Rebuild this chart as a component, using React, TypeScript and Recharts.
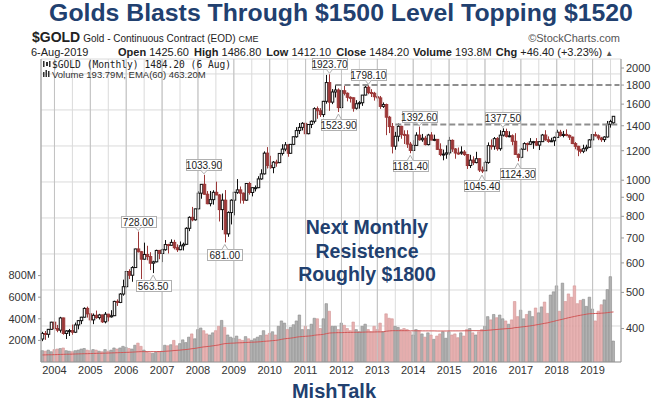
import React from 'react';
import {
  ComposedChart, Bar, Line, XAxis, YAxis, CartesianGrid,
  ReferenceLine, ReferenceDot, ReferenceArea, Cell,
} from 'recharts';

// months Sep 2003 .. Aug 2019, plus two empty months of right padding
const years = [2003, 2004, 2005, 2006, 2007, 2008, 2009, 2010, 2011, 2012, 2013, 2014, 2015, 2016, 2017, 2018, 2019];
const monthNums = ['01', '02', '03', '04', '05', '06', '07', '08', '09', '10', '11', '12'];
const categories = years
  .flatMap((y) => monthNums.map((m) => `${y}-${m}`))
  .filter((k) => k >= '2003-09' && k <= '2019-10');

const opens = [
  375, 388, 386, 398,
  416, 400, 396, 427, 388, 394, 395, 391, 409, 420, 429, 453,
  438, 422, 434, 428, 435, 417, 437, 430, 433, 473, 470, 495,
  518, 569, 556, 583, 654, 643, 614, 632, 624, 599, 604, 648,
  636, 651, 672, 669, 681, 659, 651, 667, 673, 743, 795, 783,
  838, 923, 975, 917, 865, 887, 928, 913, 834, 884, 718, 819,
  884, 928, 942, 923, 884, 980, 927, 955, 955, 1008, 1040, 1182,
  1096, 1081, 1118, 1115, 1180, 1212, 1244, 1181, 1248, 1308, 1359, 1386,
  1421, 1333, 1411, 1439, 1556, 1536, 1500, 1628, 1828, 1620, 1725, 1746,
  1566, 1738, 1711, 1669, 1664, 1560, 1604, 1614, 1692, 1776, 1719, 1711,
  1675, 1663, 1578, 1596, 1476, 1393, 1234, 1312, 1395, 1327, 1323, 1250,
  1202, 1240, 1321, 1284, 1296, 1246, 1322, 1282, 1287, 1210, 1172, 1175,
  1184, 1279, 1213, 1183, 1182, 1190, 1172, 1095, 1132, 1115, 1142, 1065,
  1060, 1116, 1238, 1234, 1293, 1215, 1321, 1351, 1311, 1316, 1272, 1173,
  1152, 1211, 1254, 1249, 1268, 1269, 1242, 1269, 1322, 1284, 1271, 1276,
  1303, 1345, 1318, 1327, 1319, 1305, 1254, 1233, 1206, 1196, 1215, 1226,
  1283, 1325, 1316, 1298, 1285, 1306, 1413, 1425.6,
];
const highs = [
  392, 394, 399, 417,
  427, 409, 430, 428, 396, 399, 410, 415, 421, 430, 456, 458,
  440, 439, 447, 438, 436, 443, 438, 448, 475, 479, 498, 541,
  571, 577, 588, 655, 728, 646, 680, 667, 641, 608, 651, 650,
  655, 691, 675, 694, 692, 673, 685, 680, 748, 800, 848, 838,
  934, 977, 1033.9, 935, 936, 940, 991, 918, 921, 941, 825, 889,
  931, 1007, 962, 927, 981, 990, 959, 968, 1025, 1070, 1195, 1227,
  1163, 1126, 1135, 1182, 1249, 1266, 1246, 1250, 1310, 1388, 1424, 1432,
  1424, 1414, 1447, 1569, 1577, 1561, 1633, 1917, 1923.7, 1756, 1803, 1764,
  1764, 1792, 1720, 1679, 1669, 1640, 1630, 1693, 1790, 1798.1, 1755, 1726,
  1697, 1683, 1617, 1605, 1488, 1424, 1348, 1420, 1400, 1361, 1362, 1267,
  1280, 1345, 1392.6, 1331, 1315, 1332, 1346, 1325, 1289, 1256, 1208, 1240,
  1307, 1287, 1220, 1224, 1233, 1205, 1175, 1170, 1159, 1192, 1146, 1088,
  1128, 1263, 1287, 1306, 1305, 1362, 1377.5, 1375, 1353, 1327, 1337, 1180,
  1221, 1264, 1262, 1297, 1275, 1297, 1273, 1331, 1362, 1311, 1300, 1310,
  1366, 1365, 1356, 1369, 1326, 1309, 1266, 1237, 1214, 1245, 1245, 1290,
  1331, 1349, 1327, 1307, 1312, 1442, 1453, 1486.8,
];
const lows = [
  370, 373, 378, 397,
  398, 391, 390, 385, 375, 382, 385, 389, 398, 411, 428, 428,
  415, 411, 425, 423, 414, 413, 418, 428, 432, 460, 468, 490,
  515, 543, 534, 582, 640, 543, 612, 610, 574, 563.5, 602, 614,
  603, 647, 636, 667, 652, 642, 649, 648, 670, 730, 776, 779,
  835, 892, 915, 862, 851, 860, 912, 775, 735, 681, 705, 761,
  805, 919, 866, 865, 880, 915, 905, 933, 952, 1003, 1036, 1075,
  1073, 1044, 1087, 1111, 1165, 1196, 1156, 1177, 1242, 1300, 1330, 1360,
  1308, 1328, 1380, 1420, 1462, 1478, 1478, 1604, 1535, 1600, 1667, 1523.9,
  1563, 1689, 1628, 1616, 1527, 1547, 1556, 1583, 1690, 1701, 1672, 1635,
  1626, 1554, 1563, 1321, 1338, 1180, 1207, 1271, 1292, 1251, 1221, 1181.4,
  1200, 1238, 1277, 1268, 1240, 1240, 1280, 1273, 1206, 1160, 1131, 1142,
  1167, 1191, 1142, 1170, 1170, 1162, 1072, 1078, 1098, 1110, 1052, 1045.4,
  1058, 1107, 1208, 1207, 1200, 1200, 1310, 1302, 1304, 1241, 1171, 1124.3,
  1146, 1208, 1195, 1245, 1214, 1236, 1205, 1266, 1276, 1260, 1266, 1236,
  1302, 1309, 1303, 1312, 1282, 1250, 1211, 1160, 1180, 1182, 1196, 1221,
  1276, 1310, 1281, 1267, 1266, 1302, 1384, 1412.1,
];
const closes = [
  388, 386, 398, 416,
  400, 396, 427, 388, 394, 395, 391, 409, 420, 429, 453, 438,
  422, 434, 428, 435, 417, 437, 430, 433, 473, 470, 495, 518,
  569, 556, 583, 654, 643, 614, 632, 624, 599, 604, 648, 636,
  651, 672, 669, 681, 659, 651, 667, 673, 743, 795, 783, 838,
  923, 975, 917, 865, 887, 928, 913, 834, 884, 718, 819, 884,
  928, 942, 923, 884, 980, 927, 955, 955, 1008, 1040, 1182, 1096,
  1081, 1118, 1115, 1180, 1212, 1244, 1181, 1248, 1308, 1359, 1386, 1421,
  1333, 1411, 1439, 1556, 1536, 1500, 1628, 1828, 1620, 1725, 1746, 1566,
  1738, 1711, 1669, 1664, 1560, 1604, 1614, 1692, 1776, 1719, 1711, 1675,
  1663, 1578, 1596, 1476, 1393, 1234, 1312, 1395, 1327, 1323, 1250, 1202,
  1240, 1321, 1284, 1296, 1246, 1322, 1282, 1287, 1210, 1172, 1175, 1184,
  1279, 1213, 1183, 1182, 1190, 1172, 1095, 1132, 1115, 1142, 1065, 1060,
  1116, 1238, 1234, 1293, 1215, 1321, 1351, 1311, 1316, 1272, 1173, 1152,
  1211, 1254, 1249, 1268, 1269, 1242, 1269, 1322, 1284, 1271, 1276, 1303,
  1345, 1318, 1327, 1319, 1305, 1254, 1233, 1206, 1196, 1215, 1226, 1283,
  1325, 1316, 1298, 1285, 1306, 1413, 1437.8, 1484.2,
];
// monthly volume, millions
const volumes = [
  105, 100, 110, 95,
  115, 120, 125, 130, 105, 100, 95, 105, 110, 120, 125, 110,
  105, 115, 110, 100, 95, 115, 100, 110, 130, 120, 130, 145,
  135, 125, 120, 155, 175, 145, 110, 95, 85, 80, 90, 95,
  100, 155, 150, 160, 200, 150, 170, 205, 180, 230, 260, 215,
  300, 315, 290, 260, 250, 270, 290, 330, 385, 320, 250, 230,
  220, 240, 210, 200, 235, 215, 200, 215, 230, 245, 290, 250,
  265, 280, 250, 330, 380, 360, 300, 320, 345, 380, 435, 300,
  330, 300, 350, 405, 400, 310, 400, 540, 470, 330, 330, 300,
  360, 340, 310, 290, 370, 300, 280, 330, 350, 300, 280, 330,
  300, 360, 280, 446, 405, 400, 330, 320, 300, 310, 300, 280,
  250, 300, 290, 260, 230, 270, 250, 210, 240, 260, 280, 220,
  280, 250, 260, 225, 270, 240, 300, 310, 270, 250, 280, 300,
  330, 420, 390, 440, 410, 435, 400, 380, 350, 390, 560, 420,
  480, 400, 440, 470, 420, 500, 455, 510, 555, 450, 620, 650,
  705, 470, 730, 560, 630, 600, 705, 540, 570, 580, 515, 600,
  490, 380, 470, 530, 575, 670, 790, 194,
];
// EMA(60) of volume, millions
const volumeEma = [
  65, 66, 67, 67,
  68, 69, 70, 71, 72, 72, 73, 74, 75, 76, 77, 77,
  78, 79, 80, 81, 81, 82, 83, 84, 85, 86, 87, 88,
  89, 90, 91, 93, 95, 96, 96, 96, 96, 96, 96, 97,
  97, 99, 101, 103, 106, 108, 110, 113, 115, 119, 123, 126,
  131, 136, 140, 143, 146, 150, 154, 158, 165, 170, 172, 174,
  175, 177, 178, 179, 181, 182, 183, 184, 186, 188, 191, 193,
  195, 198, 200, 204, 210, 215, 218, 221, 225, 230, 234, 236,
  238, 240, 243, 248, 251, 253, 256, 263, 268, 270, 271, 272,
  272, 273, 274, 274, 275, 275, 275, 276, 277, 278, 278, 278,
  279, 279, 280, 285, 288, 290, 290, 290, 290, 290, 290, 289,
  289, 289, 289, 288, 288, 288, 288, 288, 287, 287, 287, 287,
  288, 288, 288, 288, 288, 289, 289, 290, 290, 290, 290, 290,
  291, 294, 296, 299, 301, 304, 306, 308, 310, 312, 318, 320,
  324, 327, 330, 334, 338, 343, 348, 353, 358, 363, 370, 376,
  384, 390, 396, 403, 410, 416, 422, 428, 433, 438, 443, 447,
  448, 449, 450, 452, 454, 457, 461, 463.2,
];

const priceTicks = [400, 500, 600, 700, 800, 900, 1000, 1100, 1200, 1300, 1400, 1500, 1600, 1700, 1800, 1900, 2000];
const volumeTicks = [200, 400, 600, 800];
const gridTicks = categories.filter((k) => k.endsWith('-01') || k.endsWith('-07'));
const yearStarts = categories.filter((k) => k.endsWith('-01'));
// the chart's square background mesh (rows counted up from the bottom)
const meshRows = [1, 2, 3, 4, 5, 6, 7, 8, 9, 10, 11, 12, 13, 14, 15, 16];

const annotations = [
  { m: '2006-05', v: 728.0, below: false },
  { m: '2006-10', v: 563.5, below: true },
  { m: '2008-03', v: 1033.9, below: false },
  { m: '2008-10', v: 681.0, below: true },
  { m: '2011-09', v: 1923.7, below: false },
  { m: '2011-12', v: 1523.9, below: true },
  { m: '2012-10', v: 1798.1, below: false },
  { m: '2014-03', v: 1392.6, below: false },
  { m: '2013-12', v: 1181.4, below: true },
  { m: '2015-12', v: 1045.4, below: true },
  { m: '2016-07', v: 1377.5, below: false },
  { m: '2016-12', v: 1124.3, below: true },
];

const rows = categories.map((m, i) => {
  const has = i < closes.length;
  return {
    m,
    range: has ? [lows[i], highs[i]] : null,
    o: has ? opens[i] : null,
    h: has ? highs[i] : null,
    l: has ? lows[i] : null,
    c: has ? closes[i] : null,
    vol: has ? volumes[i] : null,
    ema: has ? volumeEma[i] : null,
    up: has && i > 0 ? closes[i] >= closes[i - 1] : true,
  };
});

const RED = '#9c3838';
const NAVY = '#21406f';

const Candle = (props: any) => {
  const { x, y, width, height, payload } = props;
  if (!payload || payload.c == null) return null;
  const { o, h, l, c } = payload;
  const span = Math.log(h) - Math.log(l);
  const py = (v: number) => y + (span > 0 ? (height * (Math.log(h) - Math.log(v))) / span : 0);
  const cx = Math.round(x + width / 2) + 0.5;
  const up = c >= o;
  const top = py(Math.max(o, c));
  const bot = py(Math.min(o, c));
  const color = up ? '#111' : RED;
  return (
    <g>
      <line x1={cx} x2={cx} y1={y} y2={y + height} stroke={color} strokeWidth={1} />
      <rect x={cx - 1.25} y={top} width={2.5} height={Math.max(bot - top, 1)} fill={up ? '#fff' : RED} stroke={color} strokeWidth={1} />
    </g>
  );
};

const Tag = ({ cx, cy, text, below }: any) => {
  if (cx == null || cy == null) return null;
  const w = 35;
  const h = 11;
  const x = Math.round(cx - w / 2) + 0.5;
  const y = below ? Math.round(cy + 7) + 0.5 : Math.round(cy - 5 - h) + 0.5;
  const tip = below
    ? `M${cx - 3},${y} L${cx},${cy + 2} L${cx + 3},${y}`
    : `M${cx - 3},${y + h} L${cx},${cy - 1} L${cx + 3},${y + h}`;
  return (
    <g>
      <rect x={x} y={y} width={w} height={h} fill="#fff" stroke="#b0b0b0" />
      <path d={tip} fill="#fff" stroke="#b0b0b0" />
      <text x={cx} y={y + h - 2} textAnchor="middle" fontSize={10} fontFamily="Arial" fill="#222">{text}</text>
    </g>
  );
};

export default function App() {
  return (
    <div style={{ position: 'absolute', left: 0, top: 0, width: 668, height: 405, background: '#fff', overflow: 'hidden' }}>
      <ComposedChart width={668} height={405} data={rows} margin={{ top: 59, right: 0, bottom: 25, left: 0 }}>
        <XAxis
          xAxisId="main"
          dataKey="m"
          ticks={gridTicks}
          interval={0}
          tickFormatter={(v: string) => (v.endsWith('-01') ? v.slice(0, 4) : '')}
          height={18}
          tickSize={0}
          tickMargin={4}
          axisLine={{ stroke: '#999' }}
          tick={{ fontSize: 11, fill: '#333', fontFamily: 'Arial' }}
        />
        <XAxis xAxisId="candle" dataKey="m" orientation="top" height={0} hide />
        <YAxis
          yAxisId="vol"
          orientation="left"
          width={41}
          domain={[0, 2805]}
          ticks={volumeTicks}
          allowDataOverflow
          tickFormatter={(v: number) => `${v}M`}
          tickSize={3}
          tickMargin={2}
          axisLine={{ stroke: '#999' }}
          tickLine={{ stroke: '#999' }}
          tick={{ fontSize: 11, fill: '#333', fontFamily: 'Arial' }}
        />
        <YAxis
          yAxisId="price"
          orientation="right"
          width={47}
          scale="log"
          domain={[325.3, 2114.6]}
          ticks={priceTicks}
          allowDataOverflow
          tickSize={3}
          tickMargin={2}
          axisLine={{ stroke: '#999' }}
          tickLine={{ stroke: '#999' }}
          tick={{ fontSize: 11, fill: '#333', fontFamily: 'Arial' }}
        />
        <YAxis yAxisId="mesh" orientation="left" width={0} hide domain={[0, 16.83]} ticks={meshRows} allowDataOverflow />
        <CartesianGrid xAxisId="main" yAxisId="mesh" stroke="#dadada" />
        {yearStarts.map((k) => (
          <ReferenceLine key={k} xAxisId="main" yAxisId="price" x={k} stroke="#c2c2c2" />
        ))}
        <Bar xAxisId="main" yAxisId="vol" dataKey="vol" barSize={2.5} isAnimationActive={false}>
          {rows.map((r, i) => (
            <Cell key={i} fill={r.up ? '#b1b1b1' : '#e8b2b2'} stroke={r.up ? '#8c8c8c' : '#d39696'} strokeWidth={0.6} />
          ))}
        </Bar>
        <Line xAxisId="main" yAxisId="vol" dataKey="ema" stroke="#d05858" strokeWidth={1} dot={false} isAnimationActive={false} />
        <ReferenceLine
          xAxisId="main"
          yAxisId="price"
          segment={[{ x: '2011-11', y: 1800 }, { x: '2019-10', y: 1800 }]}
          stroke="#8e8e8e"
          strokeWidth={2}
          strokeDasharray="6 3"
        />
        <ReferenceLine
          xAxisId="main"
          yAxisId="price"
          segment={[{ x: '2013-07', y: 1411 }, { x: '2019-10', y: 1411 }]}
          stroke="#8e8e8e"
          strokeWidth={2}
          strokeDasharray="6 3"
        />
        <Bar xAxisId="candle" yAxisId="price" dataKey="range" barSize={3} shape={<Candle />} isAnimationActive={false} />
        {annotations.map((a) => (
          <ReferenceDot
            key={a.m}
            xAxisId="main"
            yAxisId="price"
            x={a.m}
            y={a.v}
            ifOverflow="visible"
            shape={(p: any) => <Tag cx={p.cx} cy={p.cy} text={a.v.toFixed(2)} below={a.below} />}
          />
        ))}
        <ReferenceArea xAxisId="main" yAxisId="price" fill="none" stroke="#999" ifOverflow="visible" />
      </ComposedChart>

      <svg width={668} height={405} style={{ position: 'absolute', left: 0, top: 0, pointerEvents: 'none' }}>
        <text x={341} y={21} textAnchor="middle" fontFamily="Arial" fontWeight="bold" fontSize={24.8} fill={NAVY}>
          Golds Blasts Through $1500 Level Topping $1520
        </text>
        <text x={32} y={42} fontFamily="Arial" fill="#222">
          <tspan fontWeight="bold" fontSize={14}>$GOLD</tspan>
          <tspan fontSize={10} dx={3}>Gold - Continuous Contract (EOD)</tspan>
          <tspan fontSize={9} dx={3}>CME</tspan>
        </text>
        <text x={620} y={42} textAnchor="end" fontFamily="Arial" fontSize={11} fill="#555">©StockCharts.com</text>
        <text x={31} y={56} fontFamily="Arial" fontSize={11} fill="#222">6-Aug-2019</text>
        <text x={118} y={56} fontFamily="Arial" fontSize={11} fill="#222">
          <tspan fontWeight="bold">Open</tspan> 1425.60 <tspan fontWeight="bold" dx={2}>High</tspan> 1486.80{' '}
          <tspan fontWeight="bold" dx={2}>Low</tspan> 1412.10 <tspan fontWeight="bold" dx={2}>Close</tspan> 1484.20{' '}
          <tspan fontWeight="bold" dx={1}>Volume</tspan> 193.8M <tspan fontWeight="bold" dx={1}>Chg</tspan> +46.40 (+3.23%) <tspan fill="#555" fontSize={8}>▲</tspan>
        </text>
        <g fill="#333">
          <rect x={43} y={61} width={1.5} height={6} />
          <rect x={46} y={62} width={2} height={4} />
          <rect x={49} y={61} width={1.5} height={6} />
          <rect x={43} y={72} width={1.5} height={5} />
          <rect x={45.5} y={70} width={1.5} height={7} />
          <rect x={48} y={71} width={1.5} height={6} />
        </g>
        <text x={52} y={67.5} fontFamily="DejaVu Sans Mono" fontSize={9.6} fill="#222">$GOLD (Monthly) 1484.20 (6 Aug)</text>
        <text x={52} y={77.5} fontFamily="Arial" fontSize={9.5} fill="#333">Volume 193.79M, EMA(60) 463.20M</text>
        <g fontFamily="Arial" fontWeight="bold" fontSize={19.5} fill={NAVY} textAnchor="middle">
          <text x={367} y={234}>Next Monthly</text>
          <text x={367} y={258}>Resistence</text>
          <text x={367} y={281}>Roughly $1800</text>
        </g>
        <text x={334} y={398} textAnchor="middle" fontFamily="Arial" fontWeight="bold" fontSize={20} fill={NAVY}>MishTalk</text>
      </svg>
    </div>
  );
}
